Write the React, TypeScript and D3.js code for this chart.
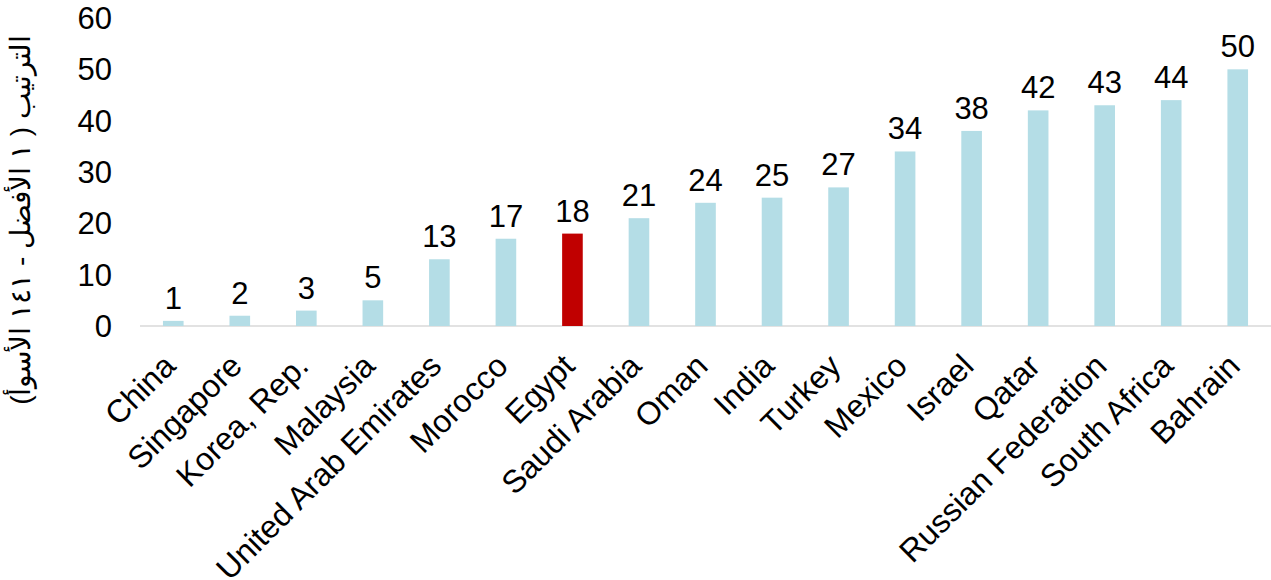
import React from "react";
import * as d3 from "d3";

const countries = ["China","Singapore","Korea, Rep.","Malaysia","United Arab Emirates","Morocco","Egypt","Saudi Arabia","Oman","India","Turkey","Mexico","Israel","Qatar","Russian Federation","South Africa","Bahrain"];
const ranks = [1,2,3,5,13,17,18,21,24,25,27,34,38,42,43,44,50];
const yTicks = [0,10,20,30,40,50,60];
const highlight = "Egypt";
const yTitle = "الترتيب ( ١ الأفضل - ١٤١ الأسوأ)";

export default function App() {
  const W = 1271, H = 580;
  const x = d3.scaleBand<string>().domain(countries).range([140, 1271]).paddingInner(0.69).paddingOuter(0.345);
  const y = d3.scaleLinear().domain([0, 60]).range([326, 18]);
  const font = "Liberation Sans, Arial, sans-serif";
  return (
    <svg width={W} height={H} style={{ position: "absolute", left: 0, top: 0, background: "#fff" }} fontFamily={font}>
      {yTicks.map(t => (
        <text key={t} x={112} y={y(t)} dy="0.36em" textAnchor="end" fontSize={31} fill="#000">{t}</text>
      ))}
      <line x1={140} x2={1271} y1={y(0)} y2={y(0)} stroke="#D9D9D9" strokeWidth={1.5} />
      {countries.map((c, i) => {
        const bx = x(c)!;
        const cx = bx + x.bandwidth() / 2;
        const v = ranks[i];
        return (
          <g key={c}>
            <rect x={bx} y={y(v)} width={x.bandwidth()} height={y(0) - y(v)} fill={c === highlight ? "#C00000" : "#B4DDE6"} />
            <text x={cx} y={y(v) - 12} textAnchor="middle" fontSize={31} fill="#000">{v}</text>
            <text transform={`translate(${cx + 4},${368}) rotate(-45)`} textAnchor="end" fontSize={32} fill="#000">{c}</text>
          </g>
        );
      })}
      <text transform={`translate(${20},${220}) rotate(-90)`} textAnchor="middle" fontSize={28} direction="rtl" fill="#000" dy="0.35em">{yTitle}</text>
    </svg>
  );
}
